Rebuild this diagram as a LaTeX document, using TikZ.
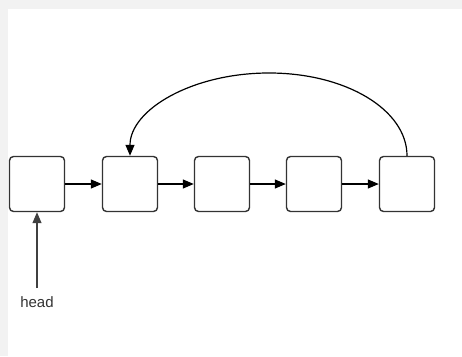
\documentclass[tikz,border=0pt]{standalone}
\usepackage{fontspec}
\setmainfont{Liberation Sans}
\usetikzlibrary{arrows.meta, positioning}
\begin{document}
\begin{tikzpicture}[x=1pt, y=-1pt,
    cell/.style={draw=black!80, line width=1.4pt, rounded corners=4pt,
                 minimum size=55pt, inner sep=0pt},
    link/.style={black, line width=1.2pt, -{Triangle[length=11pt, width=9pt]}}]
        % page and frame
        \fill[black!5] (0,0) rectangle (462,356);
        \fill[white] (8,9) rectangle (462,356);

        \foreach \i/\x in {1/37, 2/130, 3/222, 4/314, 5/407}
            \node[cell] (n\i) at (\x,184) {};

        \foreach \a/\b in {1/2, 2/3, 3/4, 4/5}
            \draw[link] (n\a) -- (n\b);

        % back link
        \draw[link] (n5.north) .. controls +(0,-46) and (346,73) .. (269,73)
                    .. controls (192,73) and ([yshift=46pt]n2.north) .. (n2.north);

        \node[text=black!80, font=\fontsize{15}{18}\selectfont] (head) at (37,302) {head};
        \coordinate (headtail) at (37,288);
        \draw[link, draw=black!75] (headtail) -- (n1.south);
\end{tikzpicture}
\end{document}
